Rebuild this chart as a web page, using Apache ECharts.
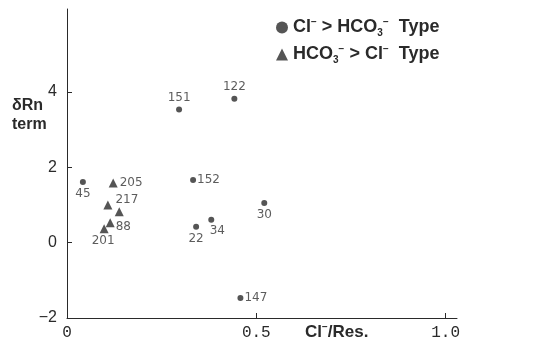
<!DOCTYPE html>
<html>
<head>
<meta charset="utf-8">
<script src="https://cdn.jsdelivr.net/npm/echarts@6/dist/echarts.min.js"></script>
<style>
  html, body { margin: 0; padding: 0; background: #fff; }
  #chart { width: 533px; height: 345px; }
</style>
</head>
<body>
<div id="chart"></div>
<script>
// Cl- > HCO3- type springs (circles)
const clNames = ['45', '151', '122', '152', '30', '22', '34', '147'];
const clRatio = [0.042, 0.296, 0.442, 0.333, 0.521, 0.341, 0.381, 0.458];
const clRn    = [1.61, 3.53, 3.82, 1.66, 1.05, 0.42, 0.61, -1.47];

// HCO3- > Cl- type springs (triangles)
const hcoNames = ['205', '217', '', '88', '201'];
const hcoRatio = [0.122, 0.108, 0.138, 0.114, 0.098];
const hcoRn    = [1.58, 1.00, 0.82, 0.53, 0.37];

const yTicks = [-2, 0, 2, 4];
const xTicks = [0, 0.5, 1.0];

// where each point number sits relative to its mark
const labelPlace = {
  '45':  { position: 'bottom', distance: 3 },
  '151': { position: 'top', distance: 3 },
  '122': { position: 'top', distance: 3 },
  '152': { position: 'right', distance: 1 },
  '30':  { position: 'bottom', distance: 3 },
  '22':  { position: 'bottom', distance: 3 },
  '34':  { position: 'bottom', distance: 2, offset: [6, 0] },
  '147': { position: 'right', distance: 1 },
  '205': { position: 'right', distance: 2 },
  '217': { position: 'right', distance: 2, offset: [1, -5] },
  '88':  { position: 'right', distance: 1, offset: [0, 4] },
  '201': { position: 'bottom', distance: 2, offset: [-1, 0] }
};

const ink = '#2a2a2a';
const labelFont = { fontFamily: 'DejaVu Sans', fontSize: 12, color: '#333' };

function points(names, xs, ys) {
  return names.map((n, i) => {
    const p = { value: [xs[i], ys[i]], name: n };
    if (n && labelPlace[n]) {
      p.label = Object.assign({ show: true, formatter: n }, labelFont, labelPlace[n]);
    }
    return p;
  });
}

function chemStyle(size) {
  return {
    b:   { fontFamily: 'Liberation Sans', fontWeight: 'bold', fontSize: size, color: ink, lineHeight: size + 3 },
    sup: { fontFamily: 'Liberation Sans', fontWeight: 'bold', fontSize: 10, color: ink, verticalAlign: 'top', lineHeight: size + 3, padding: [0, 0, 6, 0] },
    sub: { fontFamily: 'Liberation Sans', fontWeight: 'bold', fontSize: 10, color: ink, verticalAlign: 'bottom', lineHeight: size + 3 }
  };
}

const chart = echarts.init(document.getElementById('chart'));
chart.setOption({
  animation: false,
  grid: { left: 67, right: 76, top: 9, bottom: 27, containLabel: false },
  legend: {
    orient: 'vertical',
    left: 271,
    top: 12,
    itemGap: 6,
    itemWidth: 12,
    itemHeight: 12,
    data: [
      { name: 'cl', icon: 'circle' },
      { name: 'hco', icon: 'triangle' }
    ],
    formatter: function (name) {
      if (name === 'cl') return '{b|Cl}{sup|−}{b| > HCO}{sub|3}{sup|−}{b|  Type}';
      return '{b|HCO}{sub|3}{sup|−}{b| > Cl}{sup|−}{b|  Type}';
    },
    textStyle: { rich: chemStyle(18) }
  },
  xAxis: {
    type: 'value',
    min: 0,
    max: 1.03,
    interval: 0.5,
    axisLine: { onZero: false, lineStyle: { color: ink, width: 1 } },
    axisTick: { show: true, inside: true, length: 5, customValues: [0.5, 1.0], lineStyle: { color: ink } },
    axisLabel: {
      customValues: xTicks,
      margin: 7,
      fontFamily: 'Liberation Mono',
      fontSize: 16,
      color: ink,
      formatter: v => (v === 0 ? '0' : v.toFixed(1))
    },
    splitLine: { show: false }
  },
  yAxis: {
    type: 'value',
    min: -2,
    max: 6.2,
    interval: 2,
    axisLine: { show: true, onZero: false, lineStyle: { color: ink, width: 1 } },
    axisTick: { show: true, inside: true, length: 5, customValues: [0, 2, 4], lineStyle: { color: ink } },
    axisLabel: {
      customValues: yTicks,
      margin: 10,
      fontFamily: 'Liberation Sans',
      fontSize: 16,
      color: ink,
      formatter: v => (v < 0 ? '−' + Math.abs(v) : String(v))
    },
    splitLine: { show: false }
  },
  graphic: [
    {
      type: 'text',
      left: 12,
      top: 96,
      style: {
        text: 'δRn\nterm',
        fontFamily: 'Liberation Sans',
        fontWeight: 'bold',
        fontSize: 16,
        lineHeight: 19,
        fill: ink
      }
    },
    {
      type: 'text',
      left: 305,
      top: 322,
      style: {
        rich: chemStyle(17),
        text: '{b|Cl}{sup|−}{b|/Res.}',
        fill: ink
      }
    }
  ],
  series: [
    {
      name: 'cl',
      type: 'scatter',
      symbol: 'circle',
      symbolSize: 6,
      itemStyle: { color: ink },
      data: points(clNames, clRatio, clRn)
    },
    {
      name: 'hco',
      type: 'scatter',
      symbol: 'triangle',
      symbolSize: 9,
      itemStyle: { color: ink },
      data: points(hcoNames, hcoRatio, hcoRn)
    }
  ]
});
</script>
</body>
</html>
